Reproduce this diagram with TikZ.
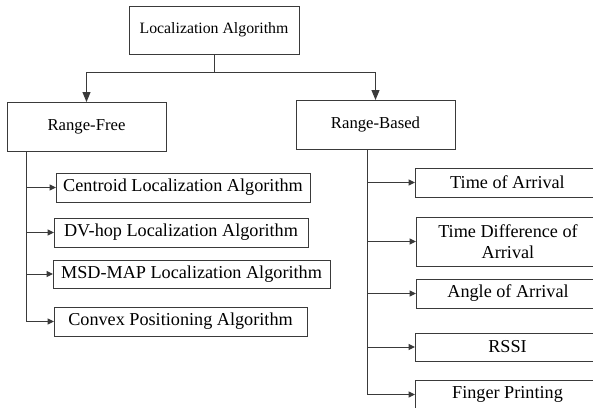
\documentclass[tikz,border=0pt]{standalone}
\usepackage{fontspec}
\setmainfont{Liberation Serif}
\usetikzlibrary{arrows.meta}
\definecolor{ln}{HTML}{3A3A3A}
\begin{document}
\begin{tikzpicture}[x=1pt,y=-1pt,
  box/.style={draw=ln, line width=1pt, rectangle, inner sep=0pt, outer sep=0pt, fill=white, text=black},
  topfont/.style={font=\fontsize{15.8}{18}\selectfont},
  rngfont/.style={font=\fontsize{16.7}{19}\selectfont},
  subfont/.style={font=\fontsize{18.2}{21}\selectfont},
  conn/.style={draw=ln, line width=1pt},
  bigarr/.style={conn, -{Triangle[length=10pt,width=8pt]}},
  smallarr/.style={conn, -{Triangle[length=6.5pt,width=6pt]}}
]
\useasboundingbox (0,0) rectangle (593,407);
\clip (0,0) rectangle (593,407);
\fill[white] (0,0) rectangle (593,407);

% top level
\node[box, topfont, minimum width=170pt, minimum height=48pt] (top) at (214,30) {Localization Algorithm};
\node[box, rngfont, minimum width=159pt, minimum height=49pt] (rf) at (86.5,126.5) {Range-Free};
\node[box, rngfont, minimum width=159pt, minimum height=49pt] (rb) at (375.5,124.5) {Range-Based};

% left children
\node[box, subfont, minimum width=254pt, minimum height=29pt] (c1) at (183,187.5) {Centroid Localization Algorithm};
\node[box, subfont, minimum width=254pt, minimum height=29pt] (c2) at (181,232.5) {DV-hop Localization Algorithm};
\node[box, subfont, minimum width=277pt, minimum height=28pt] (c3) at (191.5,274) {MSD-MAP Localization Algorithm};
\node[box, subfont, minimum width=253pt, minimum height=29pt] (c4) at (180.5,321.5) {Convex Positioning Algorithm};

% right children
\node[box, subfont, minimum width=185pt, minimum height=29pt] (r1) at (507.5,182.5) {Time of Arrival};
\node[box, subfont, minimum width=184pt, minimum height=49pt, align=center] (r2) at (508,241.5) {Time Difference of\\Arrival};
\node[box, subfont, minimum width=184pt, minimum height=29pt] (r3) at (508,293.5) {Angle of Arrival};
\node[box, subfont, minimum width=185pt, minimum height=28pt] (r4) at (507.5,347) {RSSI};
\node[box, subfont, minimum width=185pt, minimum height=29pt] (r5) at (507.5,394.5) {Finger Printing};

% top connectors
\coordinate (j) at (214,72);
\draw[conn] (top.south) -- (j);
\draw[bigarr] (j) -| (rf.north);
\draw[bigarr] (j) -| (rb.north);

% left trunk
\coordinate (lt) at (26,151);
\draw[conn] (lt) -- (lt |- c4.west);
\draw[smallarr] (lt |- c1.west) -- (c1.west);
\draw[smallarr] (lt |- c2.west) -- (c2.west);
\draw[smallarr] (lt |- c3.west) -- (c3.west);
\draw[smallarr] (lt |- c4.west) -- (c4.west);

% right trunk
\coordinate (rt) at (367,149);
\draw[conn] (rt) -- (rt |- r5.west);
\draw[smallarr] (rt |- r1.west) -- (r1.west);
\draw[smallarr] (rt |- r2.west) -- (r2.west);
\draw[smallarr] (rt |- r3.west) -- (r3.west);
\draw[smallarr] (rt |- r4.west) -- (r4.west);
\draw[smallarr] (rt |- r5.west) -- (r5.west);
\end{tikzpicture}
\end{document}
